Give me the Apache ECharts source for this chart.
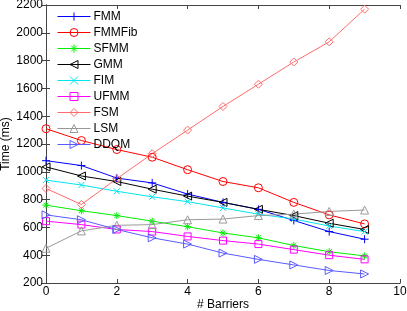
<!DOCTYPE html>
<html><head><meta charset="utf-8">
<script src="https://cdn.jsdelivr.net/npm/echarts@6/dist/echarts.min.js"></script>
<style>html,body{margin:0;padding:0;background:#fff}#c{width:407px;height:311px}</style>
</head><body><div id="c"></div>
<script>
var barriers = [0,1,2,3,4,5,6,7,8,9];
var FMM    = [1080, 1045, 955, 920, 840, 780, 730, 650, 570, 515];
var FMMFib = [1310, 1225, 1160, 1105, 1015, 930, 885, 780, 690, 625];
var SFMM   = [760, 720, 685, 645, 605, 560, 525, 470, 425, 395];
var GMM    = [1035, 970, 930, 875, 825, 780, 730, 685, 630, 585];
var FIM    = [940, 905, 860, 820, 785, 740, 695, 660, 610, 570];
var UFMM   = [645, 620, 585, 570, 535, 505, 480, 440, 400, 370];
var FSM    = [880, 765, 950, 1130, 1300, 1470, 1630, 1790, 1935, 2170];
var LSM    = [450, 575, 615, 620, 655, 660, 685, 695, 715, 725];
var DDQM   = [690, 655, 585, 525, 480, 415, 370, 330, 290, 265];
var xTicks = [0,2,4,6,8,10];
var yTicks = [200,400,600,800,1000,1200,1400,1600,1800,2000,2200];

var PLUS = 'path://M5,0L5,10M0,5L10,5';
var CROSS = 'path://M0,0L10,10M0,10L10,0';
var STAR = 'path://M5,0L5,10M0,5L10,5M1.5,1.5L8.5,8.5M1.5,8.5L8.5,1.5';
var CIRCLE = 'path://M0,5A5,5 0 1,0 10,5A5,5 0 1,0 0,5Z';
var SQUARE = 'path://M0,0L10,0L10,10L0,10Z';
var DIAMOND = 'path://M5,0L10,5L5,10L0,5Z';
var TRI_UP = 'path://M5,0L10,10L0,10Z';
var TRI_LEFT = 'path://M0,5L10,0L10,10Z';
var TRI_RIGHT = 'path://M10,5L0,0L0,10Z';

function mk(name, data, color, symbol, size) {
  return {
    name: name, type: 'line', data: data.map(function(v,i){return [barriers[i], v];}),
    symbol: symbol, symbolSize: size,
    showAllSymbol: true,
    lineStyle: {color: color, width: 1},
    itemStyle: {color: 'none', borderColor: color, borderWidth: 1},
    emphasis: {disabled: true},
    animation: false
  };
}

var chart = echarts.init(document.getElementById('c'));
var font = 'Liberation Sans, Arial, sans-serif';
chart.setOption({
  animation: false,
  grid: {left: 46, right: 7, top: 5, bottom: 28, containLabel: false, outerBoundsMode: 'none'},
  legend: {
    orient: 'vertical', left: 57, top: 10, padding: 0, itemWidth: 33, itemHeight: 10, itemGap: 3,
    lineStyle: {width: 1}, itemStyle: {borderWidth: 1},
    textStyle: {fontSize: 12, lineHeight: 12, fontFamily: font, color: '#000', padding: [0,0,0,-2]},
    data: ['FMM','FMMFib','SFMM','GMM','FIM','UFMM','FSM','LSM','DDQM']
  },
  xAxis: [{
    type: 'value', min: 0, max: 10, interval: 2,
    name: '# Barriers', nameLocation: 'middle', nameGap: 16, nameMoveOverlap: false,
    nameTextStyle: {fontSize: 12, fontFamily: font, color: '#000'},
    axisLine: {lineStyle: {color: '#444'}},
    axisTick: {inside: true, length: 4, lineStyle: {color: '#444'}},
    axisLabel: {fontSize: 12, fontFamily: font, color: '#000', margin: 3,
      formatter: function(v){return xTicks.indexOf(v) >= 0 ? String(v) : '';}},
    splitLine: {show: false}
  }, {
    type: 'value', min: 0, max: 10, interval: 2, position: 'top',
    axisLine: {lineStyle: {color: '#444'}},
    axisTick: {inside: true, length: 4, lineStyle: {color: '#444'}},
    axisLabel: {show: false}, splitLine: {show: false}
  }],
  yAxis: [{
    type: 'value', min: 200, max: 2200, interval: 200,
    name: 'Time (ms)', nameLocation: 'middle', nameGap: 34, nameMoveOverlap: false,
    nameTextStyle: {fontSize: 12, fontFamily: font, color: '#000'},
    axisLine: {show: true, lineStyle: {color: '#444'}},
    axisTick: {show: true, inside: true, length: 4, lineStyle: {color: '#444'}},
    axisLabel: {fontSize: 12, fontFamily: font, color: '#000', margin: 3,
      formatter: function(v){return yTicks.indexOf(v) >= 0 ? String(v) : '';}},
    splitLine: {show: false}
  }, {
    type: 'value', min: 200, max: 2200, interval: 200, position: 'right',
    axisLine: {show: true, lineStyle: {color: '#444'}},
    axisTick: {show: true, inside: true, length: 4, lineStyle: {color: '#444'}},
    axisLabel: {show: false}, splitLine: {show: false}
  }],
  series: [
    mk('FMM', FMM, '#0000ff', PLUS, 8),
    mk('FMMFib', FMMFib, '#ff0000', CIRCLE, 8),
    mk('SFMM', SFMM, '#00ee00', STAR, 7),
    mk('GMM', GMM, '#000000', TRI_LEFT, 8),
    mk('FIM', FIM, '#00e5ee', CROSS, 6),
    mk('UFMM', UFMM, '#ff00ff', SQUARE, 7),
    mk('FSM', FSM, '#ff6b6b', DIAMOND, 8),
    mk('LSM', LSM, '#999999', TRI_UP, 8),
    mk('DDQM', DDQM, '#5a5aff', TRI_RIGHT, 8)
  ]
});
</script></body></html>
